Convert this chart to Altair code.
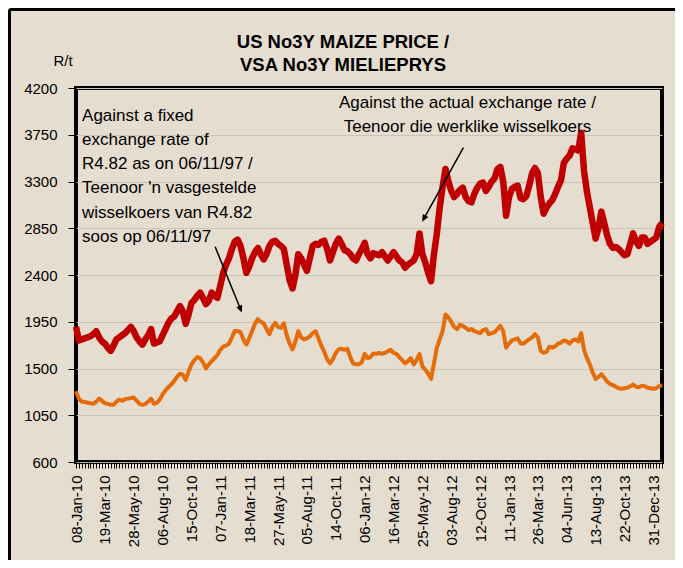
import json
import altair as alt
import pandas as pd

# ---------------- data ----------------
date_labels = ["08-Jan-10", "19-Mar-10", "28-May-10", "06-Aug-10", "15-Oct-10",
               "07-Jan-11", "18-Mar-11", "27-May-11", "05-Aug-11", "14-Oct-11",
               "06-Jan-12", "16-Mar-12", "25-May-12", "03-Aug-12", "12-Oct-12",
               "11-Jan-13", "26-Mar-13", "04-Jun-13", "13-Aug-13", "22-Oct-13",
               "31-Dec-13"]

actual_rate = [
    1900, 1770, 1780, 1790, 1800, 1810, 1830, 1860, 1800, 1760,
    1740, 1700, 1670, 1720, 1780, 1800, 1820, 1840, 1870, 1900,
    1860, 1800, 1760, 1730, 1780, 1820, 1880, 1740, 1750, 1760,
    1820, 1880, 1940, 1980, 2000, 2050, 2100, 2050, 1930, 2020,
    2130, 2160, 2200, 2230, 2180, 2120, 2150, 2230, 2200, 2180,
    2300, 2420, 2500, 2560, 2650, 2720, 2740, 2680, 2560, 2420,
    2480, 2560, 2620, 2660, 2600, 2550, 2600, 2680, 2720, 2730,
    2700, 2680, 2650, 2500, 2350, 2270, 2400, 2600, 2560, 2500,
    2440, 2560, 2680, 2700, 2690, 2720, 2730, 2650, 2540, 2620,
    2700, 2750, 2700, 2640, 2630, 2600, 2560, 2540, 2600, 2650,
    2710, 2600, 2560, 2610, 2600, 2590, 2620, 2580, 2540, 2580,
    2620, 2580, 2540, 2520, 2470, 2500, 2520, 2540, 2600, 2800,
    2600, 2520, 2420, 2340, 2600, 2800, 3050, 3250, 3420, 3300,
    3210, 3150, 3180, 3220, 3240, 3150, 3110, 3100, 3180, 3240,
    3280, 3290, 3210, 3250, 3300, 3330, 3420, 3440, 3300, 2970,
    3150, 3230, 3250, 3260, 3140, 3130, 3160, 3260, 3380, 3430,
    3380, 3150, 2990, 3050, 3090, 3120, 3180, 3250, 3310, 3480,
    3520, 3550, 3620, 3610, 3600, 3770, 3400, 3200, 3050, 2900,
    2750, 2850, 3010, 2900, 2780, 2700, 2660, 2670, 2650, 2620,
    2590, 2600, 2700, 2800, 2720, 2680, 2760, 2760, 2700, 2720,
    2740, 2760, 2860, 2900]

fixed_rate = [
    1280, 1210, 1180, 1180, 1170, 1165, 1160, 1180, 1210, 1190,
    1165, 1160, 1150, 1150, 1180, 1200, 1190, 1205, 1210, 1215,
    1220, 1190, 1160, 1150, 1160, 1180, 1210, 1160, 1170, 1200,
    1250, 1290, 1320, 1345, 1380, 1420, 1450, 1440, 1390, 1470,
    1540, 1580, 1610, 1600, 1560, 1500, 1540, 1570, 1600, 1630,
    1680, 1710, 1720, 1740, 1800, 1860, 1860, 1850, 1780, 1730,
    1790, 1860, 1930, 1975, 1950, 1935, 1880, 1830, 1900, 1940,
    1900, 1890, 1935, 1820, 1740, 1685, 1760, 1860, 1800, 1780,
    1790, 1810, 1840, 1860, 1790, 1720, 1660, 1590, 1550, 1590,
    1650, 1685, 1690, 1680, 1690, 1610, 1550, 1540, 1540, 1560,
    1640, 1600, 1610, 1645, 1640, 1650, 1640, 1650, 1665, 1680,
    1650, 1640, 1610, 1580, 1550, 1570, 1600, 1540, 1580, 1640,
    1520, 1490, 1450, 1400, 1550, 1700, 1780, 1860, 2020, 1990,
    1950, 1900, 1880, 1920, 1910, 1890, 1870, 1880, 1860, 1850,
    1840, 1870, 1880, 1830, 1840, 1850, 1880, 1910, 1860, 1700,
    1740, 1770, 1780, 1790, 1740, 1740, 1760, 1780, 1800, 1830,
    1800, 1670, 1650, 1660, 1710, 1700, 1715, 1740, 1750, 1770,
    1760, 1740, 1770, 1780, 1760, 1840, 1680, 1600, 1540, 1460,
    1400, 1420, 1445, 1410, 1375, 1350, 1340, 1325, 1310, 1305,
    1310, 1315, 1330, 1345, 1325, 1320, 1335, 1330, 1315, 1310,
    1305, 1310, 1330, 1340]

y_ticks = [600, 1050, 1500, 1950, 2400, 2850, 3300, 3750, 4200]

title_lines = ["US No3Y MAIZE PRICE /", "VSA No3Y MIELIEPRYS"]
unit_label = "R/t"

note_fixed = ["Against a fixed", "exchange rate of", "R4.82 as on 06/11/97 /",
              "Teenoor 'n vasgestelde", "wisselkoers van R4.82", "soos op 06/11/97"]
note_actual = ["Against the actual exchange rate /", "Teenoor die werklike wisselkoers"]

# annotation anchors (week index, R/t)
note_fixed_pos = (2.1, 3887)
note_actual_pos = (135.6, 4012)
arrow_start_x = [48.2, 134.2]
arrow_start_y = [2672, 3626]
arrow_head_x = [57.0, 120.5]
arrow_head_y = [2070, 2943]
arrow_angle = [158, 209]

# ---------------- chart ----------------
weeks = list(range(len(actual_rate)))
df = pd.DataFrame({"week": weeks, "actual": actual_rate, "fixed": fixed_rate})

FONT = "Liberation Sans"
BG = "#e5ddcf"

x_scale = alt.Scale(domain=[0, len(weeks) - 1], nice=False, zero=False)
y_scale = alt.Scale(domain=[600, 4200], nice=False, zero=False)

label_arr = json.dumps(date_labels).replace('"', "'")
label_expr = "datum.value % 10 == 0 ? " + label_arr + "[datum.value / 10] : ''"

x_axis = alt.Axis(values=weeks, labelExpr=label_expr, labelAngle=270, title=None,
                  domain=False, grid=False, tickSize=6, tickColor="black",
                  labelPadding=7, labelFontSize=15, labelColor="black",
                  labelFont=FONT, labelOverlap=False, labelFlush=False,
                  labelBound=False)
y_axis = alt.Axis(values=y_ticks, title=None, domain=False, grid=True,
                  gridColor="#cbc3b6", gridWidth=1, tickSize=8, tickColor="black",
                  labelPadding=11, labelFontSize=15, labelColor="black",
                  labelFont=FONT, format="d")

X = lambda f: alt.X(f, scale=x_scale, axis=x_axis)
Y = lambda f: alt.Y(f, scale=y_scale, axis=y_axis)

base = alt.Chart(df)
orange = base.mark_line(color="#E46C0A", strokeWidth=4, strokeJoin="round").encode(
    x=X("week:Q"), y=Y("fixed:Q"))
red = base.mark_line(color="#C00000", strokeWidth=6.5, strokeJoin="round").encode(
    x=X("week:Q"), y=Y("actual:Q"))

notes = pd.DataFrame({
    "nx": [note_fixed_pos[0], note_actual_pos[0]],
    "ny": [note_fixed_pos[1], note_actual_pos[1]],
    "txt": ["\n".join(note_fixed), "\n".join(note_actual)],
})
note1 = alt.Chart(notes.iloc[[0]]).mark_text(
    align="left", baseline="alphabetic", fontSize=17, font=FONT, color="black",
    lineBreak="\n", lineHeight=24.3).encode(x=X("nx:Q"), y=Y("ny:Q"), text="txt:N")
note2 = alt.Chart(notes.iloc[[1]]).mark_text(
    align="center", baseline="alphabetic", fontSize=17, font=FONT, color="black",
    lineBreak="\n", lineHeight=24.3).encode(x=X("nx:Q"), y=Y("ny:Q"), text="txt:N")

arrows = pd.DataFrame({"x1": arrow_start_x, "y1": arrow_start_y,
                       "hx": arrow_head_x, "hy": arrow_head_y, "ang": arrow_angle})
shafts = alt.Chart(arrows).mark_rule(color="black", strokeWidth=1.5).encode(
    x=X("x1:Q"), y=Y("y1:Q"), x2="hx:Q", y2="hy:Q")
heads = alt.Chart(arrows).mark_point(
    shape="M-0.45,0.5L0.45,0.5L0,-0.5Z", filled=True, size=196, color="black",
    opacity=1).encode(x=X("hx:Q"), y=Y("hy:Q"), angle=alt.Angle("ang:Q", scale=None))

one = pd.DataFrame({"t": [unit_label], "title": ["\n".join(title_lines)]})
title = alt.Chart(one).mark_text(fontSize=18.5, font=FONT, fontWeight="bold",
                                 color="black", align="center", baseline="alphabetic",
                                 lineBreak="\n", lineHeight=23).encode(
    text="title:N", x=alt.value(267), y=alt.value(-40.5))
unit = alt.Chart(one).mark_text(fontSize=15, font=FONT, color="black",
                                align="center", baseline="middle").encode(
    text="t:N", x=alt.value(-13), y=alt.value(-27))
frame_left = alt.Chart(one).mark_rule(color="black", strokeWidth=3).encode(
    x=alt.value(-66.5), y=alt.value(-78.5), y2=alt.value(480))
frame_top = alt.Chart(one).mark_rule(color="black", strokeWidth=3).encode(
    x=alt.value(-66.5), x2=alt.value(610), y=alt.value(-78.5))

chart = alt.layer(orange, red, shafts, heads, note1, note2, title, unit,
                  frame_left, frame_top).properties(
    width=586, height=374,
    autosize=alt.AutoSizeParams(type="none"),
    padding={"left": 68, "top": 80, "right": 13, "bottom": 98},
).configure(background=BG).configure_view(stroke="black", strokeWidth=4)

chart.save("out.html", embed_options={"renderer": "svg", "actions": False})
